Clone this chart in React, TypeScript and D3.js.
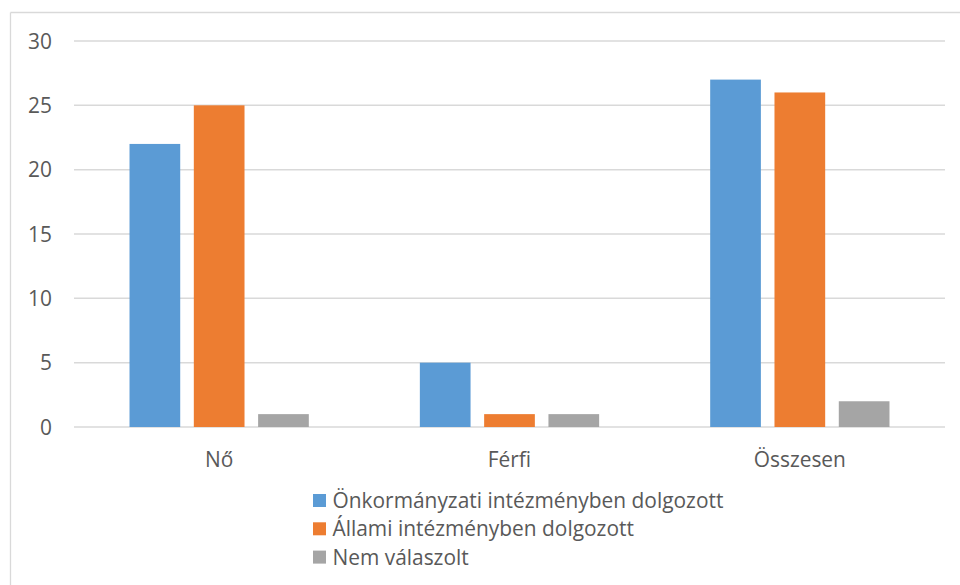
import React from "react";
import * as d3 from "d3";

const categories = ["Nő", "Férfi", "Összesen"];
const seriesNames = [
  "Önkormányzati intézményben dolgozott",
  "Állami intézményben dolgozott",
  "Nem válaszolt",
];
const onkormanyzati = [22, 5, 27];
const allami = [25, 1, 26];
const nemValaszolt = [1, 1, 2];
const yTicks = [0, 5, 10, 15, 20, 25, 30];
const colors = ["#5B9BD5", "#ED7D31", "#A5A5A5"];

const W = 960;
const H = 585;
const FONT = "'Open Sans', 'Liberation Sans', sans-serif";
const FS = 20.9;

export default function App() {
  const series = [onkormanyzati, allami, nemValaszolt];
  const plotLeft = 74;
  const plotRight = 945;
  const y = d3.scaleLinear().domain([0, 30]).range([427, 41]);
  const x0 = d3.scaleBand<string>().domain(categories).range([plotLeft, plotRight]).paddingInner(0).paddingOuter(0);
  const step = x0.bandwidth();
  const barW = 50.7;
  const barStep = 64.3;

  return (
    <svg width={W} height={H} style={{ position: "absolute", left: 0, top: 0, background: "#fff" }}>
      <rect x={0} y={0} width={W} height={H} fill="#fff" />
      {/* chart border */}
      <line x1={10.5} y1={12.5} x2={W + 5} y2={12.5} stroke="#D9D9D9" strokeWidth={1.3} />
      <line x1={10.5} y1={12.5} x2={10.5} y2={H + 5} stroke="#D9D9D9" strokeWidth={1.3} />
      {/* gridlines */}
      {yTicks.map((t) => (
        <g key={t}>
          <line x1={plotLeft} x2={plotRight} y1={y(t)} y2={y(t)} stroke="#D9D9D9" strokeWidth={1.5} />
          <text x={52} y={y(t)} dy="0.36em" textAnchor="end" fontFamily={FONT} fontSize={FS} fill="#595959">
            {t}
          </text>
        </g>
      ))}
      {/* bars */}
      {categories.map((c, ci) => {
        const cx = (x0(c) as number) + step / 2;
        return series.map((s, si) => {
          const bx = cx + (si - 1) * barStep - barW / 2;
          return (
            <rect
              key={c + si}
              x={bx}
              y={y(s[ci])}
              width={barW}
              height={y(0) - y(s[ci])}
              fill={colors[si]}
            />
          );
        });
      })}
      {/* category labels */}
      {categories.map((c) => (
        <text
          key={c}
          x={(x0(c) as number) + step / 2}
          y={459}
          dy="0.36em"
          textAnchor="middle"
          fontFamily={FONT}
          fontSize={FS}
          fill="#595959"
        >
          {c}
        </text>
      ))}
      {/* legend */}
      {seriesNames.map((n, i) => {
        const cy = 500.5 + i * 28.3;
        return (
          <g key={n}>
            <rect x={313} y={cy - 6.5} width={13} height={13} fill={colors[i]} />
            <text x={332.5} y={cy} dy="0.36em" fontFamily={FONT} fontSize={FS} fill="#595959">
              {n}
            </text>
          </g>
        );
      })}
    </svg>
  );
}
